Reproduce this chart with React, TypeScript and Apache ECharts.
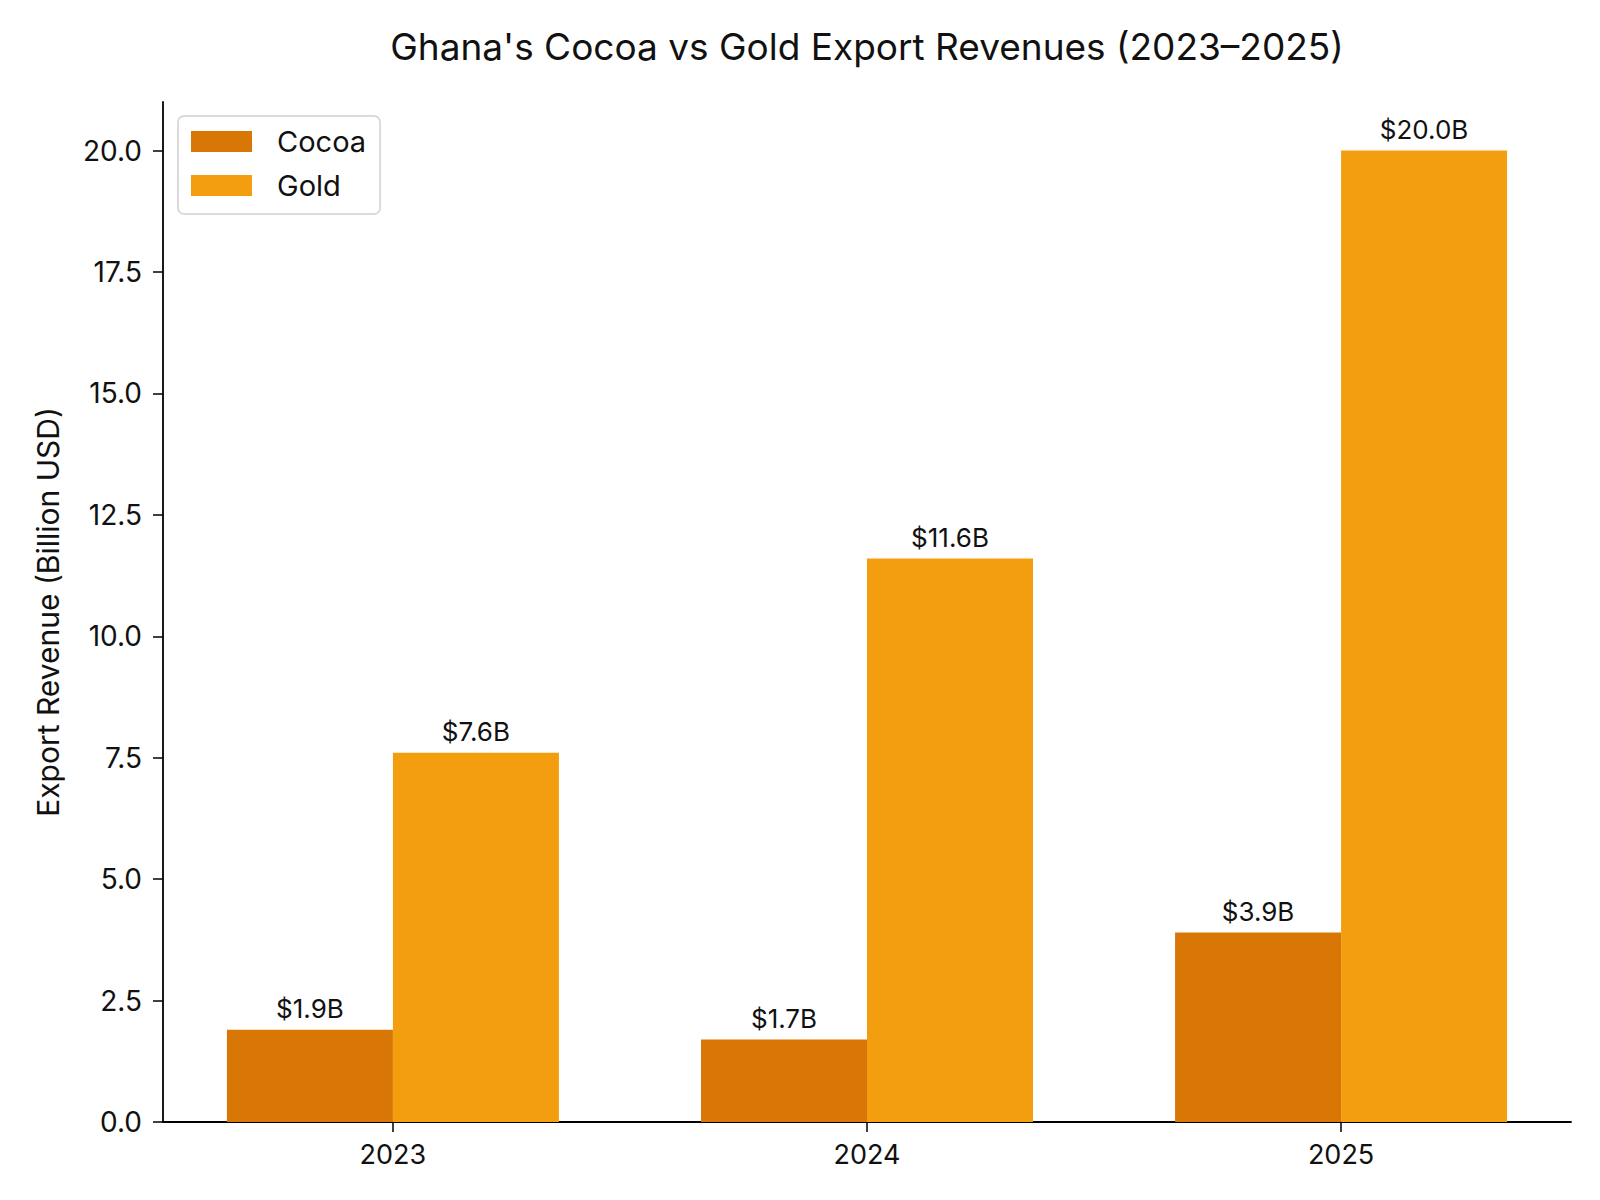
import React, { useEffect, useRef } from "react";
import * as echarts from "echarts";

const years = ["2023", "2024", "2025"];
const cocoa = [1.9, 1.7, 3.9];
const gold = [7.6, 11.6, 20.0];
const yTicks = [0, 2.5, 5, 7.5, 10, 12.5, 15, 17.5, 20];
const xTicks = [0, 1, 2];

const FONT = "Inter, 'DejaVu Sans', sans-serif";

export default function App() {
  const ref = useRef<HTMLDivElement>(null);
  useEffect(() => {
    document.body.style.margin = "0";
    if (!ref.current) return;
    const chart = echarts.init(ref.current, undefined, { renderer: "svg" });
    const label = {
      show: true,
      position: "top" as const,
      distance: 8,
      fontFamily: FONT,
      fontSize: 26,
      color: "#111",
      formatter: (p: any) => "$" + Number(p.value[1]).toFixed(1) + "B",
    };
    chart.setOption({
      animation: false,
      backgroundColor: "#fff",
      textStyle: { fontFamily: FONT },
      graphic: [
        {
          type: "text",
          x: 867,
          y: 46,
          style: {
            text: "Ghana's Cocoa vs Gold Export Revenues (2023–2025)",
            fontFamily: FONT,
            fontSize: 37,
            fill: "#111",
            textAlign: "center",
            textVerticalAlign: "middle",
          },
        },
      ],
      legend: {
        left: 178,
        top: 116,
        orient: "vertical",
        data: ["Cocoa", "Gold"],
        itemWidth: 61,
        itemHeight: 21,
        itemGap: 15,
        padding: [11, 14, 14, 13],
        borderColor: "#d0d0d0",
        borderWidth: 1.5,
        borderRadius: 6,
        icon: "rect",
        textStyle: {
          fontFamily: FONT,
          fontSize: 29,
          color: "#111",
          lineHeight: 27,
          padding: [0, 0, 0, 20],
        },
      },
      grid: { left: 163, right: 29, top: 102, bottom: 78, containLabel: false },
      xAxis: {
        type: "value",
        min: -0.485,
        max: 2.485,
        splitLine: { show: false },
        axisLine: { show: true, onZero: false, lineStyle: { color: "#000", width: 1.8 } },
        axisTick: { show: true, length: 10, customValues: xTicks, lineStyle: { color: "#000", width: 1.5 } },
        axisLabel: {
          fontFamily: FONT,
          fontSize: 27,
          color: "#111",
          margin: 19,
          customValues: xTicks,
          formatter: (v: number) => years[Math.round(v)] ?? "",
        },
      },
      yAxis: {
        type: "value",
        min: 0,
        max: 21,
        name: "Export Revenue (Billion USD)",
        nameLocation: "middle",
        nameGap: 100,
        nameTextStyle: { fontFamily: FONT, fontSize: 30, color: "#111" },
        axisLine: { show: true, onZero: false, lineStyle: { color: "#000", width: 1.8 } },
        axisTick: { show: true, length: 10, customValues: yTicks, lineStyle: { color: "#000", width: 1.5 } },
        axisLabel: {
          fontFamily: FONT,
          fontSize: 28,
          color: "#111",
          margin: 21,
          customValues: yTicks,
          formatter: (v: number) => v.toFixed(1),
        },
        splitLine: { show: false },
      },
      series: [
        {
          name: "Cocoa",
          type: "bar",
          data: cocoa.map((v, i) => [i, v]),
          barWidth: 166,
          barGap: "0%",
          itemStyle: { color: "#D97706" },
          label,
        },
        {
          name: "Gold",
          type: "bar",
          data: gold.map((v, i) => [i, v]),
          barWidth: 166,
          barGap: "0%",
          itemStyle: { color: "#F39E0E" },
          label,
        },
      ],
    });
    return () => chart.dispose();
  }, []);
  return <div ref={ref} style={{ width: 1600, height: 1200 }} />;
}
